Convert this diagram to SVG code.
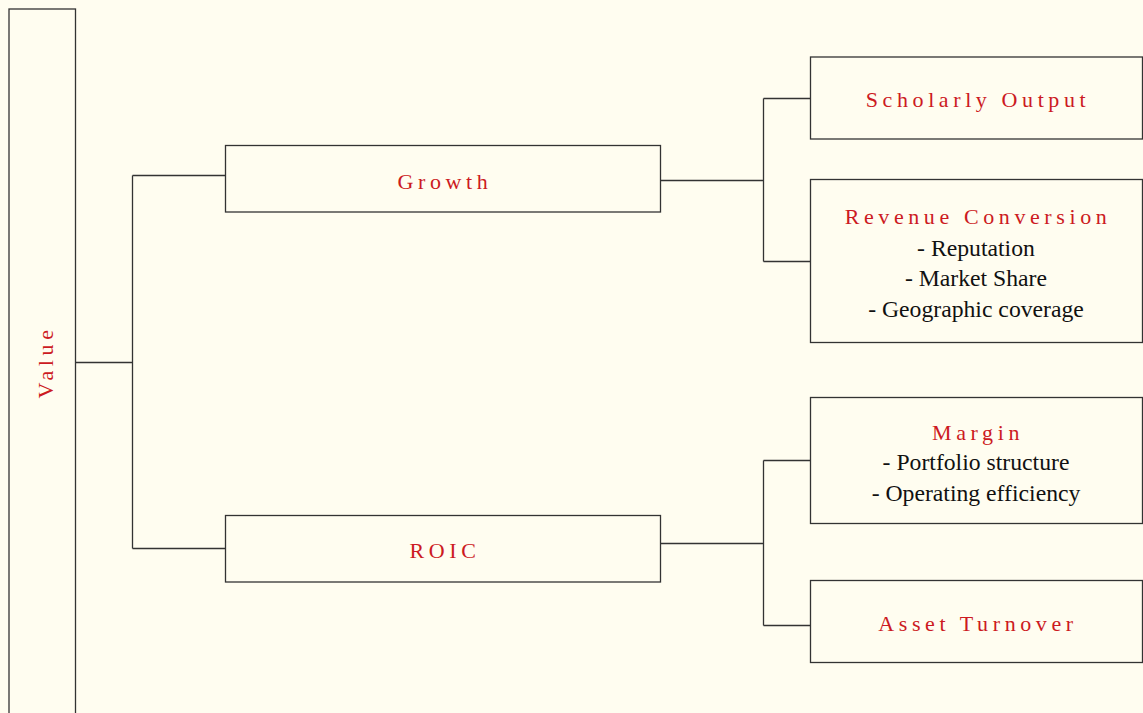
<svg xmlns="http://www.w3.org/2000/svg" width="1143" height="713" viewBox="0 0 1143 713">
<style>
.box{fill:#fffdf0;stroke:#333;stroke-width:1.3}
.conn{fill:none;stroke:#333;stroke-width:1.3}
.t{font-family:"Liberation Serif",serif;font-size:22px;fill:#cc1a22;letter-spacing:4.6px;text-anchor:middle}
.b{font-family:"Liberation Serif",serif;font-size:23.7px;fill:#111;text-anchor:middle}
</style>
<rect x="0" y="0" width="1143" height="713" fill="#fffdf0"/>
<g id="connectors">
<path class="conn" d="M75.5,362.5 H132.5 M132.5,175.5 V548.5 M132.5,175.5 H225.5 M132.5,548.5 H225.5"/>
<path class="conn" d="M660.5,180.5 H763.5 M763.5,98.5 V261.5 M763.5,98.5 H810.5 M763.5,261.5 H810.5"/>
<path class="conn" d="M660.5,543.5 H763.5 M763.5,460.5 V625.5 M763.5,460.5 H810.5 M763.5,625.5 H810.5"/>
</g>
<g id="value">
<rect class="box" x="9" y="9" width="66.5" height="720"/>
<text class="t" transform="translate(52.5,362) rotate(-90)">Value</text>
</g>
<g id="growth">
<rect class="box" x="225.5" y="145.5" width="435" height="66.5"/>
<text class="t" x="445" y="188.5">Growth</text>
</g>
<g id="roic">
<rect class="box" x="225.5" y="515.5" width="435" height="66.5"/>
<text class="t" x="445" y="557.5">ROIC</text>
</g>
<g id="scholarly">
<rect class="box" x="810.5" y="57" width="332" height="82"/>
<text class="t" x="978" y="107">Scholarly Output</text>
</g>
<g id="revenue">
<rect class="box" x="810.5" y="179.5" width="332" height="163"/>
<text class="t" x="978" y="224">Revenue Conversion</text>
<text class="b" x="976" y="256">- Reputation</text>
<text class="b" x="976" y="286">- Market Share</text>
<text class="b" x="976" y="316.5">- Geographic coverage</text>
</g>
<g id="margin">
<rect class="box" x="810.5" y="397.5" width="332" height="126"/>
<text class="t" x="978" y="439.5">Margin</text>
<text class="b" x="976" y="470">- Portfolio structure</text>
<text class="b" x="976" y="500.5">- Operating efficiency</text>
</g>
<g id="asset">
<rect class="box" x="810.5" y="580.5" width="332" height="82"/>
<text class="t" x="978" y="631">Asset Turnover</text>
</g>
</svg>
